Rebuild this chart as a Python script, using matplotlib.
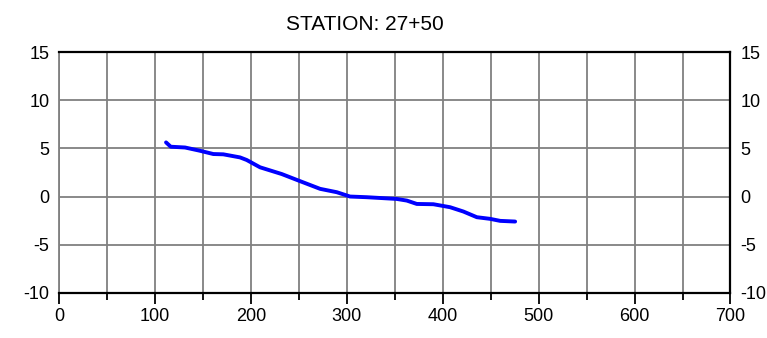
import matplotlib
matplotlib.use('Agg')
import matplotlib.pyplot as plt
from matplotlib.ticker import MultipleLocator

plt.rcParams['font.family'] = ['Liberation Sans', 'DejaVu Sans']
plt.rcParams['axes.unicode_minus'] = False

# Perfil da seção (distância x elevação)
distancia = [111.6, 116.5, 131.4, 147.0, 160.9, 171.3, 188.7, 195.7, 209.6, 232.2,
             251.3, 272.2, 289.6, 303.4, 320.9, 352.1, 362.6, 373.0, 390.3, 407.7,
             421.6, 435.6, 449.4, 459.9, 475.5]
elevacao = [5.63, 5.18, 5.10, 4.76, 4.42, 4.39, 4.07, 3.80, 3.04, 2.34,
            1.60, 0.80, 0.45, 0.00, -0.07, -0.25, -0.42, -0.77, -0.80, -1.11,
            -1.56, -2.15, -2.32, -2.53, -2.60]
titulo = 'STATION: 27+50'

fig = plt.figure(figsize=(7.67, 3.38), dpi=100)
ax = fig.add_axes([0.0769, 0.134, 0.8755, 0.7113])

ax.plot(distancia, elevacao, color='#0000ff', linewidth=2.8, solid_capstyle='round',
        solid_joinstyle='round', zorder=3)

ax.set_xlim(0, 700)
ax.set_ylim(-10, 15)
ax.xaxis.set_major_locator(MultipleLocator(100))
ax.xaxis.set_minor_locator(MultipleLocator(50))
ax.yaxis.set_major_locator(MultipleLocator(5))

# grade cinza
ax.grid(True, which='both', axis='x', color='#808080', linewidth=1.3)
ax.grid(True, which='major', axis='y', color='#808080', linewidth=1.3)
ax.set_axisbelow(True)

for lado in ['top', 'right', 'bottom']:
    ax.spines[lado].set_linewidth(1.6)
    ax.spines[lado].set_color('black')
ax.spines['left'].set_color('#808080')
ax.spines['left'].set_linewidth(1.3)

ax.tick_params(axis='x', which='major', direction='out', length=8, width=1.3, labelsize=13, pad=3)
ax.tick_params(axis='x', which='minor', direction='out', length=5, width=1.3)
ax.tick_params(axis='y', length=0, labelsize=13, pad=7, left=True, right=True,
               labelleft=True, labelright=True)

# título um pouco à esquerda do centro, como no original
fig.text(365 / 767, 1 - 24 / 338, titulo, fontsize=15, ha='center', va='center')

fig.savefig('out.png', dpi=100)
